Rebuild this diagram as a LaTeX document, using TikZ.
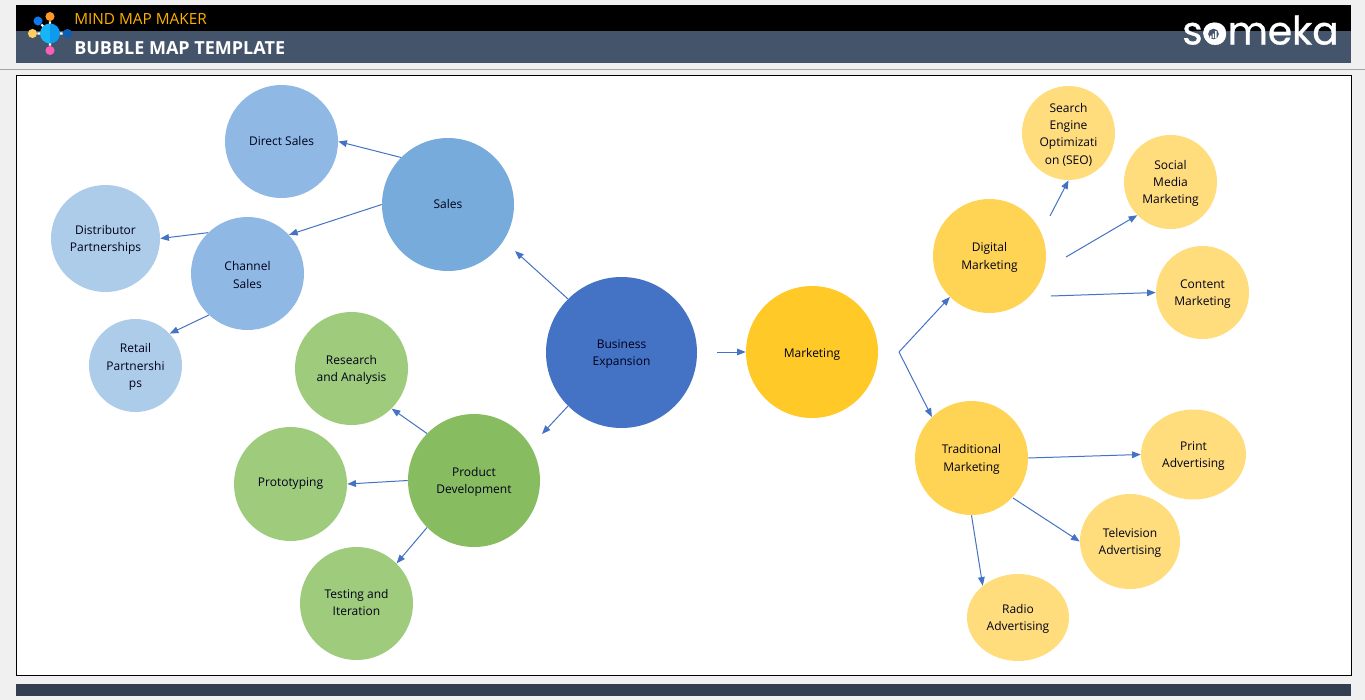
\documentclass[tikz,border=0pt]{standalone}
\usepackage{fontspec}
\setmainfont{Open Sans}
\newfontfamily\logofont[FakeBold=0.8]{Poppins}
\usetikzlibrary{shapes.geometric,arrows.meta}
\definecolor{pagebg}{HTML}{F0F0F0}
\definecolor{slate}{HTML}{44546A}
\definecolor{footbar}{HTML}{333F50}
\definecolor{linkblue}{HTML}{4472C4}
\definecolor{bub}{HTML}{4472C4}
\definecolor{blueA}{HTML}{76ABDC}
\definecolor{blueB}{HTML}{8FB8E4}
\definecolor{blueC}{HTML}{ADCCEA}
\definecolor{greenA}{HTML}{87BD60}
\definecolor{greenB}{HTML}{9FCB7D}
\definecolor{yelA}{HTML}{FFCA28}
\definecolor{yelB}{HTML}{FFD454}
\definecolor{yelC}{HTML}{FFDD7C}
\newcommand\txtdn{\rule{0pt}{9pt}}
\newcommand\txtup[1]{\rule[-#1]{0pt}{0pt}}
\tikzset{
 x=0.75pt,y=-0.75pt,
 bubble/.style={ellipse,inner sep=0pt,align=center,font=\fontsize{9pt}{13pt}\selectfont,text=black!90!blue},
 sz/.style 2 args={minimum width=#1*0.75pt,minimum height=#2*0.75pt},
 link/.style={draw=linkblue,line width=0.75pt,-{Triangle[length=6.5pt,width=5pt]}},
 hdr/.style={anchor=west,inner sep=0pt},
 dot/.style={circle,inner sep=0pt,minimum size=6.8pt},
 spoke/.style={draw=white,line width=1.6pt}
}
\begin{document}
\begin{tikzpicture}
\useasboundingbox (0,0) rectangle (1365,700);
\fill[pagebg] (0,0) rectangle (1365,700);
% header
\fill[black] (16,5) rectangle (1351,31);
\fill[slate] (16,31) rectangle (1351,63);
\draw[color=black!35,line width=0.75pt] (0,69.5) -- (1365,69.5);
\draw[black,fill=white,line width=0.9pt] (16.5,75.5) rectangle (1351.5,675.5);
\fill[footbar] (16,684) rectangle (1351,696);
% logo
\coordinate (hub) at (50,33.5);
\node[dot,fill={rgb,255:red,255;green,153;blue,38}] (lgo) at (50,16.5) {};
\node[dot,fill={rgb,255:red,17;green,119;blue,232}] (lgb) at (38,21) {};
\node[dot,fill={rgb,255:red,255;green,208;blue,96}] (lgy) at (32.5,33.5) {};
\node[dot,fill={rgb,255:red,10;green,95;blue,180}] (lgd) at (67.5,33.5) {};
\node[dot,fill={rgb,255:red,255;green,92;blue,184}] (lgp) at (50,50.5) {};
\draw[spoke] (hub) -- (lgo) (hub) -- (lgb) (hub) -- (lgy) (hub) -- (lgd) (hub) -- (lgp);
\fill[color={rgb,255:red,24;green,180;blue,248}] (50,23.5) arc[start angle=90,end angle=270,radius=7.5pt] -- cycle;
\fill[color={rgb,255:red,13;green,155;blue,240}] (50,23.5) arc[start angle=90,end angle=-90,radius=7.5pt] -- cycle;
\node[hdr,font=\fontsize{11.5pt}{12pt}\selectfont,text={rgb,255:red,255;green,176;blue,0}] (t1) at (74,19) {MIND MAP MAKER};
\node[hdr,font=\fontsize{13.5pt}{14pt}\bfseries\selectfont,text=white] (t2) at (74,48) {BUBBLE MAP TEMPLATE};
\node[anchor=base west,inner sep=0pt,font=\fontsize{29.3pt}{30pt}\logofont\selectfont,text=white] (brand) at (1182,44.5) {someka};
\fill[white] (1213.5,33) circle[radius=7.8pt];
\fill[slate] (1213.5,34) circle[radius=4pt];
\fill[white] (1210,35.5) rectangle (1211.5,38) (1212.5,33.5) rectangle (1214,38) (1215,31) rectangle (1216.5,38);
% bubbles
\node[bubble,fill=bub,sz={151}{151}] (be) at (621.5,352.5) {\txtdn Business\\Expansion};
\node[bubble,fill=yelA,sz={132}{132}] (mk) at (812,352) {\rule{0pt}{10pt}Marketing};
\node[bubble,fill=blueA,sz={132}{133}] (sa) at (448,204.5) {Sales\txtup{1.5pt}};
\node[bubble,fill=greenA,sz={132}{133}] (pd) at (474,480.5) {\txtdn Product\\Development};
\node[bubble,fill=blueB,sz={113}{113}] (ds) at (281.5,141.5) {Direct Sales\txtup{1.5pt}};
\node[bubble,fill=blueB,sz={113}{113}] (cs) at (247.5,273.5) {\txtdn Channel\\Sales};
\node[bubble,fill=blueC,sz={109}{107}] (dp) at (105.5,238.5) {\txtdn Distributor\\Partnerships};
\node[bubble,fill=blueC,sz={93}{93}] (rp) at (135.5,365.5) {\txtdn Retail\\Partnershi\\ps};
\node[bubble,fill=greenB,sz={113}{113}] (ra) at (351.5,368.5) {\txtdn Research\\and Analysis};
\node[bubble,fill=greenB,sz={113}{114}] (pt) at (290.5,484) {Prototyping\txtup{2.6pt}};
\node[bubble,fill=greenB,sz={113}{113}] (ti) at (356.5,603.5) {Testing and\\Iteration\txtup{1.5pt}};
\node[bubble,fill=yelB,sz={113}{114}] (dm) at (989.5,256) {\txtdn Digital\\Marketing};
\node[bubble,fill=yelB,sz={113}{114}] (tm) at (971.5,458) {\txtdn Traditional\\Marketing};
\node[bubble,fill=yelC,sz={93}{94}] (se) at (1068.5,133) {\txtdn Search\\Engine\\Optimizati\\on (SEO)};
\node[bubble,fill=yelC,sz={93}{94}] (sm) at (1170.5,182) {\txtdn Social\\Media\\Marketing};
\node[bubble,fill=yelC,sz={93}{93}] (cm) at (1202.5,292.5) {\txtdn Content\\Marketing};
\node[bubble,fill=yelC,sz={105}{90}] (pa) at (1193.5,454.5) {\txtdn Print\\Advertising};
\node[bubble,fill=yelC,sz={100}{95}] (tv) at (1130,541.5) {\txtdn Television\\Advertising};
\node[bubble,fill=yelC,sz={102}{87}] (ad) at (1018,617.5) {\txtdn Radio\\Advertising};
% free ends
\coordinate (beout) at (717,352);
\coordinate (fork) at (899,352);
\coordinate (dma) at (1050,216);
\coordinate (dmb) at (1066,257);
\coordinate (dmc) at (1051,296);
\coordinate (tmb) at (1013,498);
\coordinate (saend) at (515,251);
\coordinate (pdend) at (542,434);
% connectors
\draw[link] (sa.135) -- (ds.0);
\draw[link] (sa.180) -- (cs.43);
\draw[link] (cs.134) -- (dp.0);
\draw[link] (cs.227) -- (rp.43);
\draw[link] (be.135) -- (saend);
\draw[link] (be.225) -- (pdend);
\draw[link] (pd.135) -- (ra.315);
\draw[link] (pd.180) -- (pt.0);
\draw[link] (pd.225) -- (ti.45);
\draw[link] (beout) -- (mk.180);
\draw[link] (fork) -- (dm.226);
\draw[link] (fork) -- (tm.134);
\draw[link] (dma) -- (se.270);
\draw[link] (dmb) -- (sm.225);
\draw[link] (dmc) -- (cm.180);
\draw[link] (tm.0) -- (pa.180);
\draw[link] (tmb) -- (tv.180);
\draw[link] (tm.270) -- (ad.138);
\end{tikzpicture}
\end{document}
